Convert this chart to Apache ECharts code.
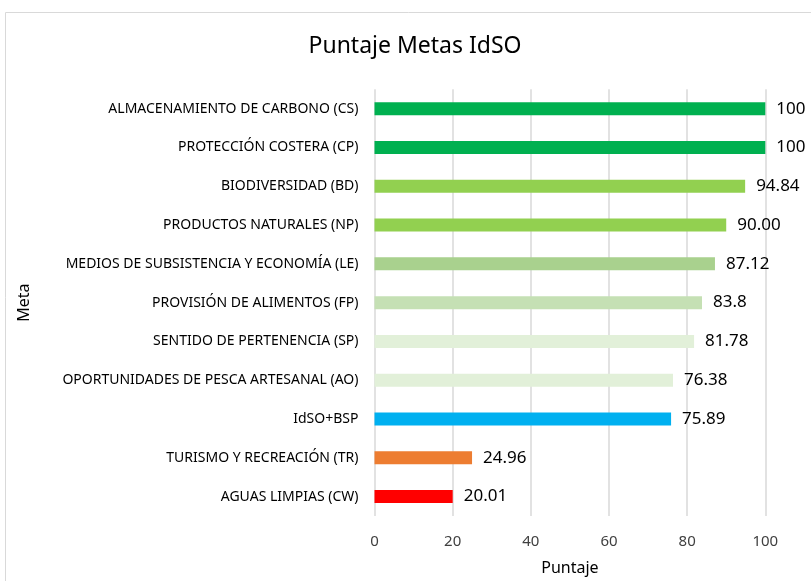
<!DOCTYPE html>
<html lang="es">
<head>
    <meta charset="UTF-8">
    <title>Puntaje Metas IdSO</title>
    <script src="https://cdn.jsdelivr.net/npm/echarts@6/dist/echarts.min.js"></script>
    <style>
        * { margin: 0; padding: 0; }
        body { background: #fff; }
        #main { width: 811px; height: 581px; }
    </style>
</head>
<body>
    <div id="main"></div>
    <script>
        // metas, de arriba hacia abajo
        var metas = [
            'ALMACENAMIENTO DE CARBONO (CS)',
            'PROTECCIÓN COSTERA (CP)',
            'BIODIVERSIDAD (BD)',
            'PRODUCTOS NATURALES (NP)',
            'MEDIOS DE SUBSISTENCIA Y ECONOMÍA (LE)',
            'PROVISIÓN DE ALIMENTOS (FP)',
            'SENTIDO DE PERTENENCIA (SP)',
            'OPORTUNIDADES DE PESCA ARTESANAL (AO)',
            'IdSO+BSP',
            'TURISMO Y RECREACIÓN (TR)',
            'AGUAS LIMPIAS (CW)'
        ];
        var puntaje = [100, 100, 94.84, 90.00, 87.12, 83.8, 81.78, 76.38, 75.89, 24.96, 20.01];
        var etiquetas = ['100', '100', '94.84', '90.00', '87.12', '83.8', '81.78', '76.38', '75.89', '24.96', '20.01'];
        var colores = ['#00B050', '#00B050', '#92D050', '#92D050', '#A9D18E', '#C5E0B4',
            '#E2F0D9', '#E2F0D9', '#00B0F0', '#ED7D31', '#FF0000'];
        var ticks = [0, 20, 40, 60, 80, 100];

        var fuente = 'Noto Sans';
        var datos = [];
        for (var i = 0; i < puntaje.length; i++) {
            datos.push({ value: puntaje[i], itemStyle: { color: colores[i] } });
        }

        var chart = echarts.init(document.getElementById('main'));
        chart.setOption({
            animation: false,
            textStyle: { fontFamily: fuente },
            graphic: [{
                type: 'rect',
                shape: { x: 5.5, y: 12.5, width: 820, height: 600 },
                style: { fill: 'none', stroke: '#d9d9d9', lineWidth: 1 },
                silent: true
            }, {
                // titulo
                type: 'text',
                x: 415,
                y: 46,
                style: {
                    text: 'Puntaje Metas IdSO',
                    fontFamily: fuente,
                    fontSize: 23,
                    fill: '#000',
                    align: 'center',
                    verticalAlign: 'middle'
                },
                silent: true
            }],
            grid: { left: 374.5, right: 45.7, top: 89.3, bottom: 65 },
            xAxis: {
                type: 'value',
                min: ticks[0],
                max: ticks[ticks.length - 1],
                interval: 20,
                name: 'Puntaje',
                nameLocation: 'middle',
                nameGap: 44,
                nameTextStyle: { fontFamily: fuente, fontSize: 16, color: '#000' },
                axisLine: { show: false },
                axisTick: { show: false },
                axisLabel: { fontFamily: fuente, fontSize: 15, color: '#404040', margin: 18 },
                splitLine: { lineStyle: { color: '#d9d9d9', width: 1.5 } }
            },
            yAxis: {
                type: 'category',
                data: metas,
                inverse: true,
                name: 'Meta',
                nameLocation: 'middle',
                nameGap: 342,
                nameRotate: 90,
                nameTextStyle: { fontFamily: fuente, fontSize: 16, color: '#000' },
                axisLine: { show: false },
                axisTick: { show: false },
                axisLabel: { fontFamily: fuente, fontSize: 14, color: '#000', margin: 16 }
            },
            series: [{
                type: 'bar',
                data: datos,
                barWidth: 13,
                label: {
                    show: true,
                    position: 'right',
                    distance: 11,
                    fontFamily: fuente,
                    fontSize: 17,
                    color: '#000',
                    formatter: function (p) { return etiquetas[p.dataIndex]; }
                }
            }]
        });
    </script>
</body>
</html>
